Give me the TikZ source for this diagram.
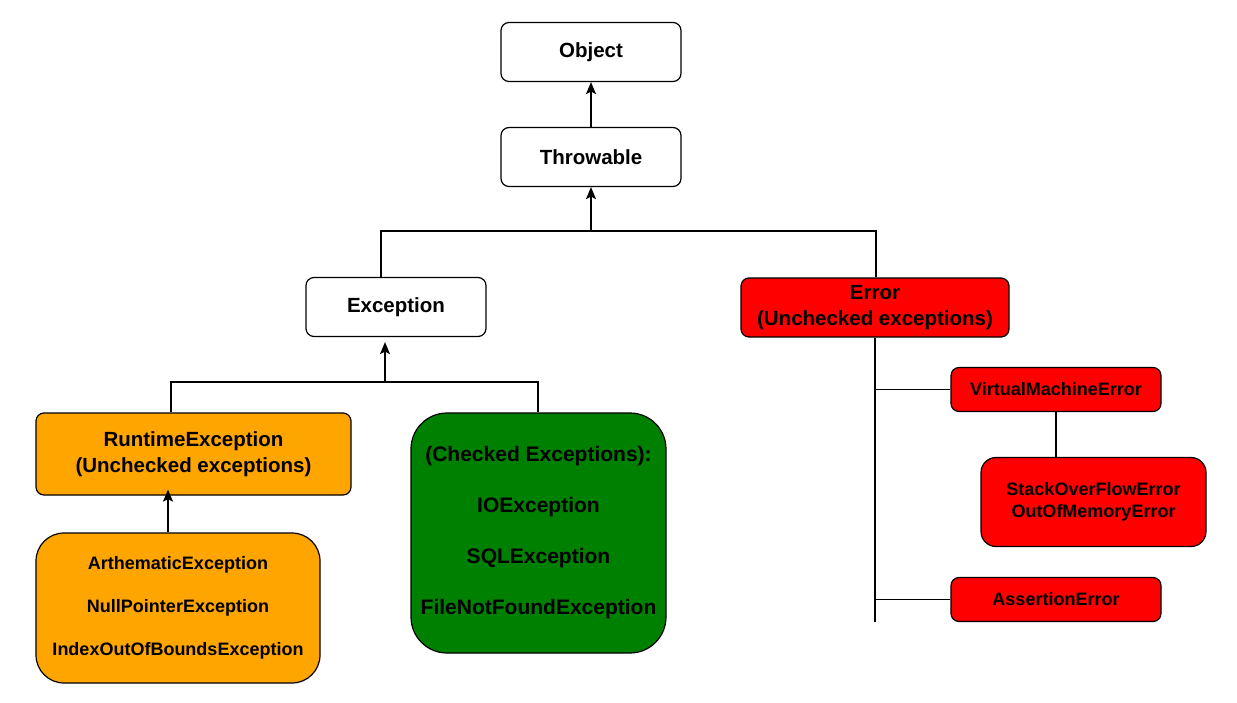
\documentclass[tikz,border=0pt]{standalone}
\usepackage{fontspec}
\setmainfont{Liberation Sans}
\usetikzlibrary{arrows.meta,calc}
\definecolor{orangeF}{HTML}{FFA500}
\definecolor{greenF}{HTML}{008000}
\definecolor{redF}{HTML}{FF0000}
\tikzset{
  box/.style={draw=black, line width=1.2pt, rectangle, rounded corners=8pt, inner sep=0pt, align=center, font=\bfseries\fontsize{20.5}{26}\selectfont},
  smallbox/.style={box, font=\bfseries\fontsize{18}{22}\selectfont},
  line/.style={draw=black, line width=1.2pt},
  arr/.style={line, -{Stealth[length=12pt,width=10pt,inset=2.5pt]}}
}
\begin{document}
\begin{tikzpicture}[x=1pt,y=-1pt]
\useasboundingbox (0,0) rectangle (1237,702);
% nodes
\node[box, fill=white, minimum width=180pt, minimum height=59pt] (object) at (591,52) {Object};
\node[box, fill=white, minimum width=180pt, minimum height=59pt] (throwable) at (591,157) {Throwable};
\node[box, fill=white, minimum width=180pt, minimum height=59pt] (exception) at (396,307) {Exception};
\node[box, fill=redF, minimum width=268pt, minimum height=59pt] (error) at (875,307.5) {Error\\(Unchecked exceptions)};
\node[box, fill=orangeF, minimum width=315pt, minimum height=82pt] (runtime) at (193.5,454) {RuntimeException\\(Unchecked exceptions)};
\node[box, fill=greenF, rounded corners=36pt, minimum width=255pt, minimum height=240pt, font=\bfseries\fontsize{21}{51}\selectfont] (checked) at (538.5,533) {(Checked Exceptions):\\IOException\\SQLException\\FileNotFoundException};
\node[box, fill=orangeF, rounded corners=28pt, minimum width=284pt, minimum height=150pt, font=\bfseries\fontsize{18}{43}\selectfont] (unchk) at (178,608) {ArthematicException\\NullPointerException\\IndexOutOfBoundsException};
\node[smallbox, fill=redF, minimum width=210pt, minimum height=44pt] (vme) at (1056,389.5) {VirtualMachineError};
\node[smallbox, fill=redF, rounded corners=15pt, minimum width=225pt, minimum height=89pt] (stack) at (1093.5,502) {StackOverFlowError\\OutOfMemoryError};
\node[smallbox, fill=redF, minimum width=210pt, minimum height=44pt] (assert) at (1056,599.5) {AssertionError};
% junction coordinates
\coordinate (j1) at (591,231);
\coordinate (jl) at (381,231);
\coordinate (jr) at (876,231);
\coordinate (j2) at (385,382);
\coordinate (j2l) at (171,382);
\coordinate (j2r) at (538,382);
\coordinate (ra) at (168,532);
\coordinate (eb) at (875,622);
% connectors
\draw[arr] (throwable.north) -- (object.south);
\draw[arr] (j1) -- (throwable.south);
\draw[line] (jl |- exception.north) -- (jl) -- (jr) -- (jr |- error.north);
\draw[arr] (j2) -- ([yshift=-5pt]j2 |- exception.south);
\draw[line] (j2l |- runtime.north) -- (j2l) -- (j2r) -- (j2r |- checked.north);
\draw[arr] (ra |- unchk.north) -- ([yshift=6pt]ra |- runtime.south);
\draw[line] (error.south) -- (eb);
\draw[line] (vme.west) -- (vme.west -| error.south);
\draw[line] (assert.west) -- (assert.west -| error.south);
\draw[line] (vme.south) -- (vme.south |- stack.north);
\end{tikzpicture}
\end{document}
